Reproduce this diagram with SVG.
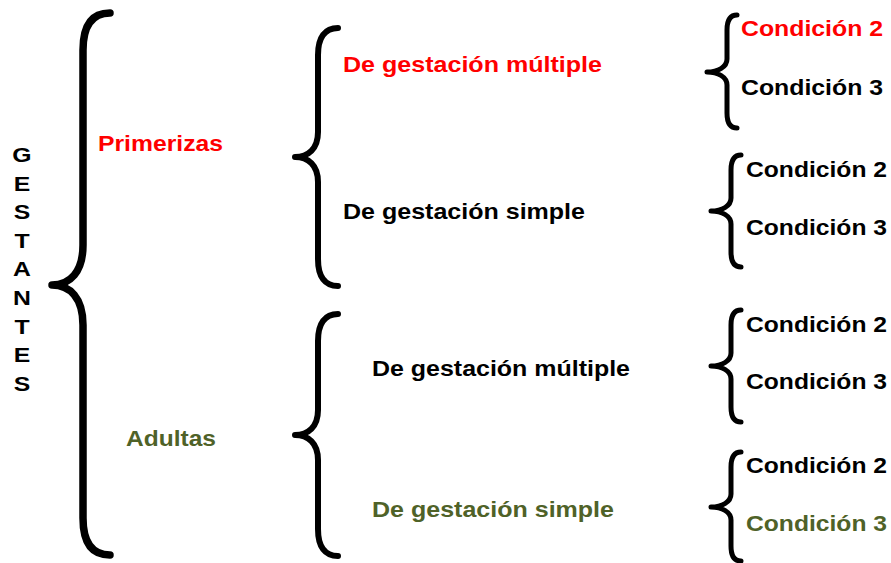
<svg xmlns="http://www.w3.org/2000/svg" width="891" height="563" viewBox="0 0 891 563">
<style>
  text { font-family: "Liberation Sans", Arial, sans-serif; font-weight: bold; font-size: 22px; }
  .red { fill: #FF0000; }
  .blk { fill: #000000; }
  .grn { fill: #4F6228; }
  .v { font-size: 21px; text-anchor: middle; fill: #000000; }
  .brace { fill: none; stroke: #000000; stroke-linecap: round; stroke-linejoin: round; }
  .b1 { stroke-width: 7.5; }
  .b2 { stroke-width: 6; }
  .b3 { stroke-width: 5; }
</style>
<rect width="891" height="563" fill="#FFFFFF"/>

<g id="connectors">
  <path class="brace b1" d="M110,13 C93,13 83,24 83,50 L83,245 C83,272 70,285 52,285 C70,285 83,298 83,325 L83,518 C83,544 93,555 110,555"/>
  <path class="brace b2" d="M338,28 C325,28 318,37 318,55 L318,132 C318,149 308,157 295,157 C308,157 318,165 318,182 L318,259 C318,277 325,286 338,286"/>
  <path class="brace b2" d="M338,314 C325,314 318,323 318,341 L318,410 C318,427 308,435 295,435 C308,435 318,443 318,460 L318,529 C318,547 325,556 338,556"/>
  <path class="brace b3" d="M737,15 C730,15 727,20 727,30 L727,59 C727,67 718,72 707,72 C718,72 727,77 727,85 L727,113 C727,123 730,128 737,128"/>
  <path class="brace b3" d="M741,155 C734,155 731,160 731,170 L731,198 C731,206 722,211 711,211 C722,211 731,216 731,224 L731,252 C731,262 734,267 741,267"/>
  <path class="brace b3" d="M741,310 C734,310 731,315 731,325 L731,353 C731,361 722,366 711,366 C722,366 731,371 731,379 L731,407 C731,417 734,422 741,422"/>
  <path class="brace b3" d="M741,452 C734,452 731,457 731,467 L731,494 C731,502 722,507 711,507 C722,507 731,512 731,520 L731,546 C731,556 734,561 741,561"/>
</g>

<g id="gestantes" transform="translate(22,0) scale(1.18,1)">
  <text class="v" x="0" y="162">G</text>
  <text class="v" x="0" y="190.6">E</text>
  <text class="v" x="0" y="219.2">S</text>
  <text class="v" x="0" y="247.8">T</text>
  <text class="v" x="0" y="276.4">A</text>
  <text class="v" x="0" y="305">N</text>
  <text class="v" x="0" y="333.6">T</text>
  <text class="v" x="0" y="362.2">E</text>
  <text class="v" x="0" y="390.8">S</text>
</g>

<g id="primerizas">
  <text class="red" x="98" y="151" textLength="125" lengthAdjust="spacingAndGlyphs">Primerizas</text>
</g>
<g id="adultas">
  <text class="grn" x="126" y="446" textLength="90" lengthAdjust="spacingAndGlyphs">Adultas</text>
</g>

<g id="prim-multiple">
  <text class="red" x="343" y="72" textLength="259" lengthAdjust="spacingAndGlyphs">De gestación múltiple</text>
</g>
<g id="prim-simple">
  <text class="blk" x="343" y="219" textLength="242" lengthAdjust="spacingAndGlyphs">De gestación simple</text>
</g>
<g id="adul-multiple">
  <text class="blk" x="372" y="376" textLength="258" lengthAdjust="spacingAndGlyphs">De gestación múltiple</text>
</g>
<g id="adul-simple">
  <text class="grn" x="372" y="517" textLength="242" lengthAdjust="spacingAndGlyphs">De gestación simple</text>
</g>

<g id="pm-conditions">
  <text class="red" x="741" y="36" textLength="142" lengthAdjust="spacingAndGlyphs">Condición 2</text>
  <text class="blk" x="741" y="95" textLength="142" lengthAdjust="spacingAndGlyphs">Condición 3</text>
</g>
<g id="ps-conditions">
  <text class="blk" x="746" y="177" textLength="141" lengthAdjust="spacingAndGlyphs">Condición 2</text>
  <text class="blk" x="746" y="235" textLength="141" lengthAdjust="spacingAndGlyphs">Condición 3</text>
</g>
<g id="am-conditions">
  <text class="blk" x="746" y="332" textLength="141" lengthAdjust="spacingAndGlyphs">Condición 2</text>
  <text class="blk" x="746" y="389" textLength="141" lengthAdjust="spacingAndGlyphs">Condición 3</text>
</g>
<g id="as-conditions">
  <text class="blk" x="746" y="473" textLength="141" lengthAdjust="spacingAndGlyphs">Condición 2</text>
  <text class="grn" x="746" y="531" textLength="141" lengthAdjust="spacingAndGlyphs">Condición 3</text>
</g>
</svg>
